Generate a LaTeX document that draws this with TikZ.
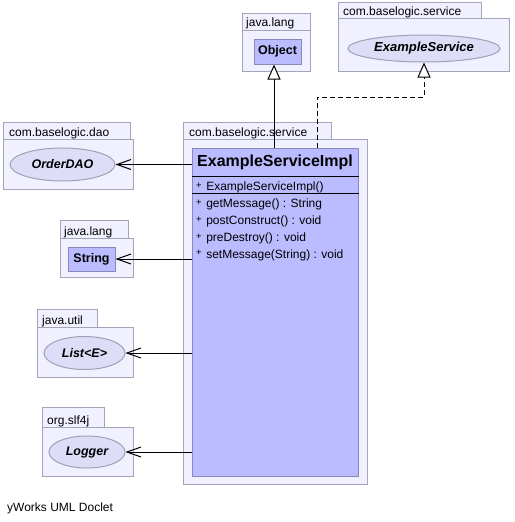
\documentclass[tikz,border=0pt]{standalone}
\usepackage{fontspec}
\setmainfont{Liberation Sans}
\usetikzlibrary{arrows.meta,shapes.geometric}

\definecolor{pkgfill}{RGB}{240,240,255}
\definecolor{pkgline}{RGB}{165,165,185}
\definecolor{clsfill}{RGB}{187,187,255}
\definecolor{clsline}{RGB}{136,136,187}
\definecolor{ifcfill}{RGB}{221,221,248}
\definecolor{ifcline}{RGB}{160,160,180}

\newcommand{\pubmark}{\raisebox{2.5pt}{\fontsize{9.5}{9.5}\selectfont+}\hspace{4.5pt}}

\begin{document}
\begin{tikzpicture}[x=1pt,y=-1pt,
  pkgbox/.style 2 args={draw=pkgline, fill=pkgfill, line width=1pt, inner sep=0pt,
    anchor=north west, minimum width=#1pt, minimum height=#2pt},
  pkglabel/.style={anchor=base west, inner sep=0pt, font=\fontsize{12}{14}\selectfont},
  clsbox/.style 2 args={draw=clsline, fill=clsfill, line width=1pt, inner sep=0pt,
    anchor=north west, minimum width=#1pt, minimum height=#2pt},
  ifcnode/.style 2 args={ellipse, draw=ifcline, fill=ifcfill, line width=1pt, inner sep=0pt,
    minimum width=#1pt, minimum height=#2pt, font=\fontsize{12.5}{15}\bfseries\itshape\selectfont},
  typename/.style={font=\fontsize{12.5}{15}\bfseries\selectfont},
  member/.style={anchor=base west, inner sep=0pt, font=\fontsize{12}{14}\selectfont},
  separator/.style={draw=black, line width=1pt},
  dep/.style={line width=1pt, -{Straight Barb[length=14pt,width=10pt,line width=1pt]}},
  gen/.style={line width=1pt, -{Triangle[open,length=15pt,width=13pt,fill=white,line width=1pt]}},
  real/.style={gen, dash pattern=on 5pt off 3pt}]

\useasboundingbox[fill=white] (0,0) rectangle (514,522);

% package com.baselogic.service (main)
\node[pkgbox={148}{17}] (mainTab) at (183,122) {};
\node[pkgbox={184}{345}] (mainPkg) at (183,139) {};
\node[pkglabel] (mainLbl) at (189,136) {com.baselogic.service};

% class ExampleServiceImpl
\node[clsbox={166}{328}] (cls) at (192,148) {};
\draw[separator] (cls.west |- 0,176) coordinate (sepA) -- (cls.east |- sepA);
\draw[separator] (cls.west |- 0,193) coordinate (sepB) -- (cls.east |- sepB);
\node[font=\fontsize{16}{19}\bfseries\selectfont, inner sep=0pt] (clsName) at (275,162) {ExampleServiceImpl};
\node[member] (ctor) at (196,190.5) {\pubmark ExampleServiceImpl()};
\node[member] (m1) at (196,207.5) {\pubmark getMessage() : String};
\node[member] (m2) at (196,224.5) {\pubmark postConstruct() : void};
\node[member] (m3) at (196,241.5) {\pubmark preDestroy() : void};
\node[member] (m4) at (196,258) {\pubmark setMessage(String) : void};

% package java.lang (Object)
\node[pkgbox={68}{17}] (langTab) at (242,13) {};
\node[pkgbox={68}{41}] (langPkg) at (242,30) {};
\node[pkglabel] (langLbl) at (246,27) {java.lang};
\node[clsbox={47}{25}, typename, anchor=center] (obj) at (277.5,51.5) {Object};

% package com.baselogic.service (ExampleService)
\node[pkgbox={143}{16}] (svcTab) at (338,2) {};
\node[pkgbox={171}{53}] (svcPkg) at (338,18) {};
\node[pkglabel] (svcLbl) at (343,15) {com.baselogic.service};
\node[ifcnode={152}{27}, font=\fontsize{13}{15}\bfseries\itshape\selectfont] (svc) at (424,48.5) {ExampleService};

% package com.baselogic.dao
\node[pkgbox={127}{17}] (daoTab) at (3,122) {};
\node[pkgbox={130}{50}] (daoPkg) at (3,139) {};
\node[pkglabel] (daoLbl) at (9,136) {com.baselogic.dao};
\node[ifcnode={105}{33}] (dao) at (62.5,164.5) {OrderDAO};

% package java.lang (String)
\node[pkgbox={68}{18}] (strTab) at (60,220) {};
\node[pkgbox={73}{39}] (strPkg) at (60,238) {};
\node[pkglabel] (strLbl) at (64,235) {java.lang};
\node[clsbox={47}{24}, typename, anchor=center] (str) at (91.5,259) {String};

% package java.util
\node[pkgbox={60}{18}] (utilTab) at (37,309) {};
\node[pkgbox={96}{50}] (utilPkg) at (37,327) {};
\node[pkglabel] (utilLbl) at (42,324) {java.util};
\node[ifcnode={81}{33}] (lst) at (84.5,353) {List<E>};

% package org.slf4j
\node[pkgbox={62}{20}] (logTab) at (42,407) {};
\node[pkgbox={91}{49}] (logPkg) at (42,427) {};
\node[pkglabel] (logLbl) at (47,424) {org.slf4j};
\node[ifcnode={76}{32}] (log) at (87,452) {Logger};

% connectors
\coordinate (genX) at (274,0);
\draw[gen] (cls.north -| genX) -- (obj.south -| genX);
\coordinate (bend) at (317,97);
\draw[real] (cls.north -| bend) -- (bend) -| (svc.south);
\draw[dep] (cls.west |- dao.east) -- (dao.east);
\draw[dep] (cls.west |- str.east) -- (str.east);
\draw[dep] (cls.west |- lst.east) -- (lst.east);
\draw[dep] (cls.west |- log.east) -- (log.east);

% footer
\node[anchor=base west, inner sep=0pt, font=\fontsize{12}{14}\selectfont] (footer) at (7,511) {yWorks UML Doclet};
\end{tikzpicture}
\end{document}
